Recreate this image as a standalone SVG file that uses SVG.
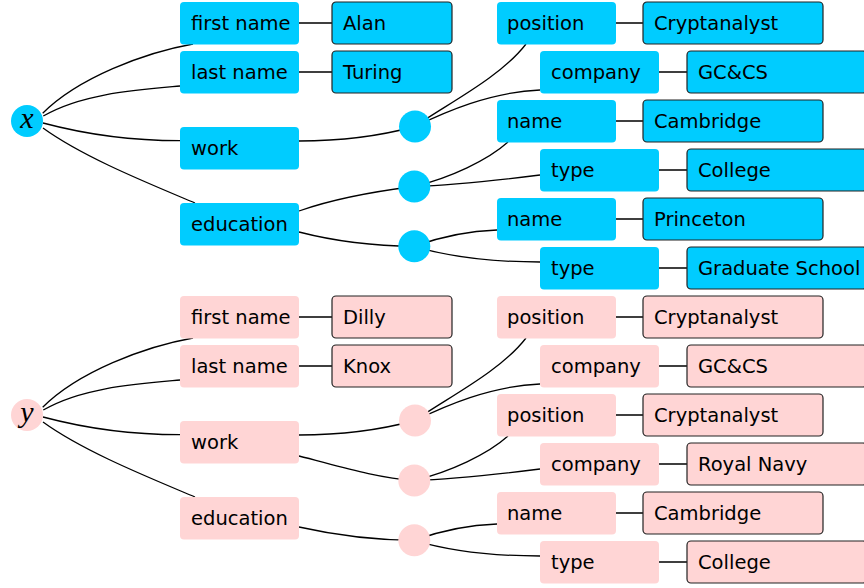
<svg xmlns="http://www.w3.org/2000/svg" width="864" height="588" viewBox="0 0 864 588">
<style>
.e{fill:none;stroke:#000;stroke-width:1.3}
.b{fill:#00ccff}
.p{fill:#ffd5d5}
.v{stroke:#222;stroke-width:1.2}
text{font-family:"DejaVu Sans",sans-serif;font-size:19.5px;fill:#000}
.m{font-family:"Liberation Serif",serif;font-style:italic;font-size:30px;text-anchor:middle}
</style>
<rect width="864" height="588" fill="#fff"/>
<g id="connectors">
<path class="e" d="M42.7,113.3 C78,78 144,52.7 193,44"/>
<path class="e" d="M43.3,116 C82.3,93.5 135,90 180,86"/>
<path class="e" d="M43,123 C86.5,134.6 135,140.7 180,140.7"/>
<path class="e" d="M43,128 C83.5,157.4 149,183.5 195,203"/>
<path class="e" d="M299,23 H332 M299,72 H332 M616,23 H643 M659,72 H687 M616,121 H643 M659,170 H687 M616,219 H643 M659,268 H687"/>
<path class="e" d="M299,141 C345,141 380,136 415,126.5"/>
<path class="e" d="M415,126.5 C445,105 500,78 526,44"/>
<path class="e" d="M415,126.5 C445,112 490,92 540,90"/>
<path class="e" d="M299,211 C330,200 370,192 414,186.5"/>
<path class="e" d="M299,232 C330,240 370,246 414,246.3"/>
<path class="e" d="M414,186.5 C450,178 488,160 508,142"/>
<path class="e" d="M414,186.5 C460,185 500,180 540,175"/>
<path class="e" d="M414,246.3 C440,237 465,231 497,230"/>
<path class="e" d="M414,246.3 C450,257 490,262 540,262"/>

<path class="e" d="M42.7,407.3 C78,372 144,346.7 193,338"/>
<path class="e" d="M43.3,410 C82.3,387.5 135,384 180,380"/>
<path class="e" d="M43,417 C86.5,428.6 135,434.7 180,434.7"/>
<path class="e" d="M43,422 C83.5,451.4 149,477.5 195,497"/>
<path class="e" d="M299,317 H332 M299,366 H332 M616,317 H643 M659,366 H687 M616,415 H643 M659,464 H687 M616,513 H643 M659,562 H687"/>
<path class="e" d="M299,435 C345,435 380,430 415,420.5"/>
<path class="e" d="M415,420.5 C445,399 500,372 526,338"/>
<path class="e" d="M415,420.5 C445,406 490,386 540,384"/>
<path class="e" d="M299,456 C335,465 375,478 414,480.5"/>
<path class="e" d="M414,480.5 C450,472 488,454 508,436"/>
<path class="e" d="M414,480.5 C460,479 500,474 540,469"/>
<path class="e" d="M299,527 C330,534 370,540 414,540.3"/>
<path class="e" d="M414,540.3 C440,531 465,525 497,524"/>
<path class="e" d="M414,540.3 C450,551 490,556 540,556"/>
</g>

<g id="x"><circle class="b" cx="27" cy="121" r="16"/><text class="m" x="27" y="128">x</text></g>
<g id="x_first"><rect class="b" x="180" y="2" width="119" height="42.5" rx="4"/><text x="191" y="30">first name</text></g>
<g id="x_last"><rect class="b" x="180" y="51" width="119" height="42.5" rx="4"/><text x="191" y="79">last name</text></g>
<g id="x_work"><rect class="b" x="180" y="127" width="119" height="42.5" rx="4"/><text x="191" y="155">work</text></g>
<g id="x_edu"><rect class="b" x="180" y="203" width="119" height="42.5" rx="4"/><text x="191" y="231">education</text></g>
<g id="x_alan"><rect class="b v" x="332" y="2" width="120" height="42" rx="4"/><text x="343" y="30">Alan</text></g>
<g id="x_turing"><rect class="b v" x="332" y="51" width="120" height="42" rx="4"/><text x="343" y="79">Turing</text></g>
<g id="x_w"><circle class="b" cx="415" cy="126.5" r="16"/></g>
<g id="x_e1"><circle class="b" cx="414.3" cy="186.5" r="16"/></g>
<g id="x_e2"><circle class="b" cx="414.3" cy="246.3" r="16"/></g>
<g id="x_pos"><rect class="b" x="497" y="2" width="119" height="42.5" rx="4"/><text x="507" y="30">position</text></g>
<g id="x_comp"><rect class="b" x="540" y="51" width="119" height="42.5" rx="4"/><text x="551" y="79">company</text></g>
<g id="x_name1"><rect class="b" x="497" y="100" width="119" height="42.5" rx="4"/><text x="507" y="128">name</text></g>
<g id="x_type1"><rect class="b" x="540" y="149" width="119" height="42.5" rx="4"/><text x="551" y="177">type</text></g>
<g id="x_name2"><rect class="b" x="497" y="198" width="119" height="42.5" rx="4"/><text x="507" y="226">name</text></g>
<g id="x_type2"><rect class="b" x="540" y="247" width="119" height="42.5" rx="4"/><text x="551" y="275">type</text></g>
<g id="x_crypt"><rect class="b v" x="643" y="2" width="180" height="42" rx="4"/><text x="654" y="30">Cryptanalyst</text></g>
<g id="x_gccs"><rect class="b v" x="687" y="51" width="180" height="42" rx="4"/><text x="698" y="79">GC&amp;CS</text></g>
<g id="x_cam"><rect class="b v" x="643" y="100" width="180" height="42" rx="4"/><text x="654" y="128">Cambridge</text></g>
<g id="x_col"><rect class="b v" x="687" y="149" width="180" height="42" rx="4"/><text x="698" y="177">College</text></g>
<g id="x_pri"><rect class="b v" x="643" y="198" width="180" height="42" rx="4"/><text x="654" y="226">Princeton</text></g>
<g id="x_grad"><rect class="b v" x="687" y="247" width="180" height="42" rx="4"/><text x="698" y="275">Graduate School</text></g>

<g id="y"><circle class="p" cx="27" cy="415" r="16"/><text class="m" x="27" y="422">y</text></g>
<g id="y_first"><rect class="p" x="180" y="296" width="119" height="42.5" rx="4"/><text x="191" y="324">first name</text></g>
<g id="y_last"><rect class="p" x="180" y="345" width="119" height="42.5" rx="4"/><text x="191" y="373">last name</text></g>
<g id="y_work"><rect class="p" x="180" y="421" width="119" height="42.5" rx="4"/><text x="191" y="449">work</text></g>
<g id="y_edu"><rect class="p" x="180" y="497" width="119" height="42.5" rx="4"/><text x="191" y="525">education</text></g>
<g id="y_dilly"><rect class="p v" x="332" y="296" width="120" height="42" rx="4"/><text x="343" y="324">Dilly</text></g>
<g id="y_knox"><rect class="p v" x="332" y="345" width="120" height="42" rx="4"/><text x="343" y="373">Knox</text></g>
<g id="y_w1"><circle class="p" cx="415" cy="420.5" r="16"/></g>
<g id="y_w2"><circle class="p" cx="414.3" cy="480.5" r="16"/></g>
<g id="y_e1"><circle class="p" cx="414.3" cy="540.3" r="16"/></g>
<g id="y_pos1"><rect class="p" x="497" y="296" width="119" height="42.5" rx="4"/><text x="507" y="324">position</text></g>
<g id="y_comp1"><rect class="p" x="540" y="345" width="119" height="42.5" rx="4"/><text x="551" y="373">company</text></g>
<g id="y_pos2"><rect class="p" x="497" y="394" width="119" height="42.5" rx="4"/><text x="507" y="422">position</text></g>
<g id="y_comp2"><rect class="p" x="540" y="443" width="119" height="42.5" rx="4"/><text x="551" y="471">company</text></g>
<g id="y_name"><rect class="p" x="497" y="492" width="119" height="42.5" rx="4"/><text x="507" y="520">name</text></g>
<g id="y_type"><rect class="p" x="540" y="541" width="119" height="42.5" rx="4"/><text x="551" y="569">type</text></g>
<g id="y_crypt1"><rect class="p v" x="643" y="296" width="180" height="42" rx="4"/><text x="654" y="324">Cryptanalyst</text></g>
<g id="y_gccs"><rect class="p v" x="687" y="345" width="180" height="42" rx="4"/><text x="698" y="373">GC&amp;CS</text></g>
<g id="y_crypt2"><rect class="p v" x="643" y="394" width="180" height="42" rx="4"/><text x="654" y="422">Cryptanalyst</text></g>
<g id="y_navy"><rect class="p v" x="687" y="443" width="180" height="42" rx="4"/><text x="698" y="471">Royal Navy</text></g>
<g id="y_cam"><rect class="p v" x="643" y="492" width="180" height="42" rx="4"/><text x="654" y="520">Cambridge</text></g>
<g id="y_col"><rect class="p v" x="687" y="541" width="180" height="42" rx="4"/><text x="698" y="569">College</text></g>
</svg>
